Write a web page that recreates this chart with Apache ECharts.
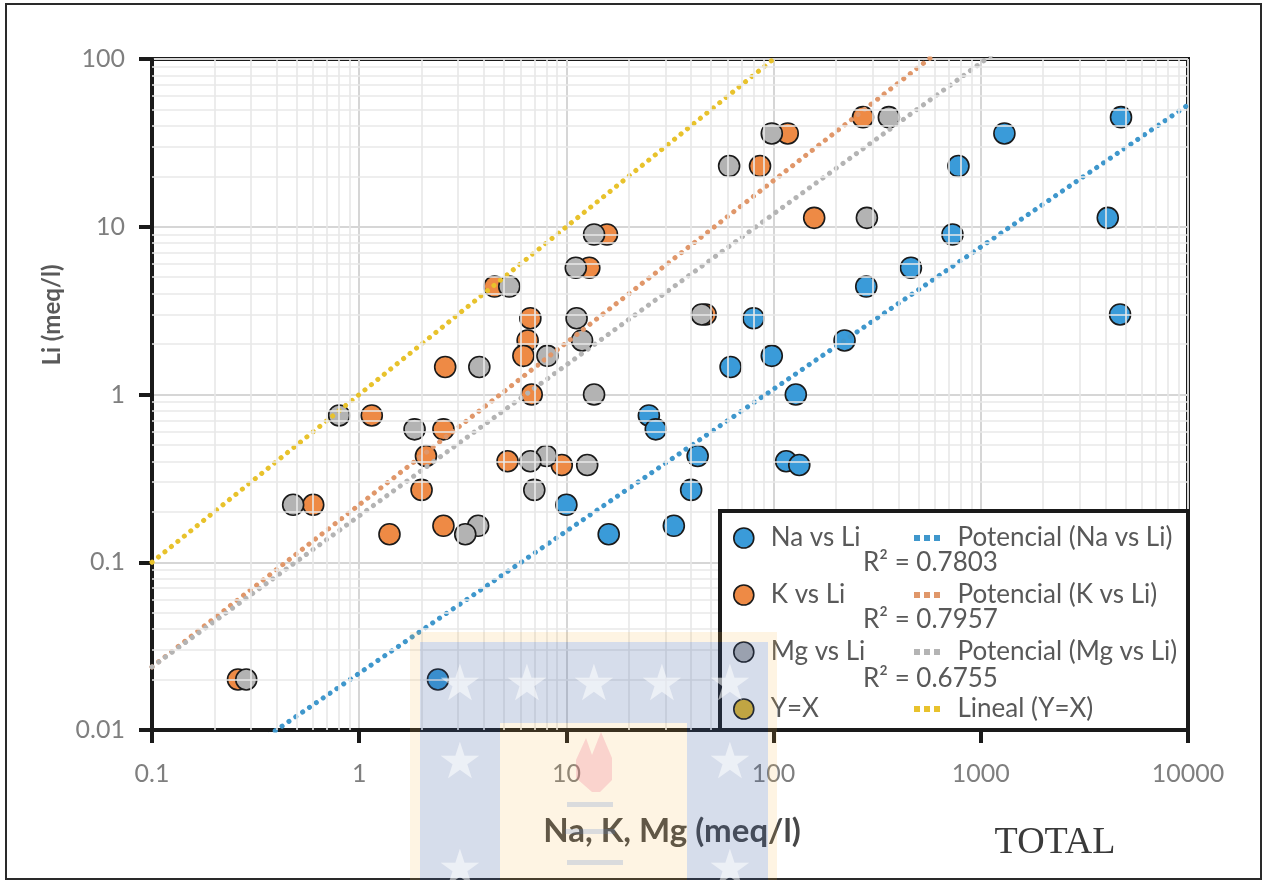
<!DOCTYPE html>
<html>
<head>
<meta charset="utf-8">
<script src="https://cdn.jsdelivr.net/npm/echarts@6/dist/echarts.min.js"></script>
<style>
  html, body { margin: 0; padding: 0; background: #fff; }
  #chart { width: 1264px; height: 880px; }
</style>
</head>
<body>
<div id="chart"></div>
<script>
// Li (meq/l), shared by the three series
const li = [45, 36, 23, 11.3, 9, 5.7, 4.4, 3.0, 2.85, 2.1, 1.7, 1.46, 1.0, 0.75, 0.62, 0.43, 0.4, 0.38, 0.27, 0.22, 0.165, 0.147, 0.02];
// Na, K, Mg (meq/l) for the same samples
const na = [4750, 1300, 780, 4100, 730, 460, 280, 4700, 80, 220, 98, 62, 128, 25, 27, 43, 115, 133, 40, 10, 33, 16, 2.4];
const k = [270, 117, 86, 157, 15.7, 12.9, 4.5, 47, 6.7, 6.5, 6.2, 2.6, 6.8, 1.15, 2.55, 2.1, 5.2, 9.5, 2.0, 0.6, 2.55, 1.4, 0.26];
const mg = [360, 98, 61, 282, 13.6, 11.1, 5.3, 45, 11.2, 11.9, 8.1, 3.8, 13.6, 0.8, 1.85, 8.0, 6.7, 12.6, 7.0, 0.48, 3.75, 3.25, 0.285];

const seriesNames = ['Na vs Li', 'K vs Li', 'Mg vs Li'];
const fitNames = ['Potencial (Na vs Li)', 'Potencial (K vs Li)', 'Potencial (Mg vs Li)'];
// power trend lines y = a * x^b
const fitCoef = [0.0218, 0.22, 0.189];
const fitExp = [0.847, 0.9665, 0.900];
const fitR2 = ['0.7803', '0.7957', '0.6755'];
const yxLine = [0.1, 100];

const xTicks = [0.1, 1, 10, 100, 1000, 10000];
const yTicks = [0.01, 0.1, 1, 10, 100];

const markColors = ['#3a9bd9', '#ee8a45', '#b3b3b3', '#e3b82a'];
const lineColors = ['#3f97cc', '#e0976a', '#b4b4b4', '#e8c22c'];
const textColor = '#595959';
const font = 'Lato';

const chart = echarts.init(document.getElementById('chart'));

// minor grid lines at 2..9 of each decade
const minorLines = [];
for (let d = -1; d < 4; d++) {
    for (let m = 2; m <= 9; m++) minorLines.push({ xAxis: m * Math.pow(10, d) });
}
for (let d = -2; d < 2; d++) {
    for (let m = 2; m <= 9; m++) minorLines.push({ yAxis: m * Math.pow(10, d) });
}

const pointSets = [na, k, mg];
const series = [];

series.push({
    name: 'grid',
    type: 'line',
    data: [],
    z: 1,
    silent: true,
    markLine: {
        silent: true,
        symbol: 'none',
        label: { show: false },
        lineStyle: { color: '#e8e8e8', width: 1.6, type: 'solid' },
        data: minorLines
    }
});

pointSets.forEach((xs, i) => {
    series.push({
        name: seriesNames[i],
        type: 'scatter',
        z: 3,
        symbol: 'circle',
        symbolSize: 21,
        itemStyle: { color: markColors[i], borderColor: '#1a1a1a', borderWidth: 1.6, opacity: 1 },
        data: xs.map((x, j) => [x, li[j]])
    });
});

series.push({
    name: 'Y=X',
    type: 'scatter',
    z: 3,
    symbol: 'circle',
    symbolSize: 0,
    itemStyle: { color: markColors[3], borderColor: '#1a1a1a', borderWidth: 1.6, opacity: 1 },
    data: yxLine.map(v => [v, v])
});

const dots = (c) => ({ color: c, width: 5, type: [0.1, 8.2], cap: 'round' });

fitNames.forEach((name, i) => {
    const a = fitCoef[i], b = fitExp[i];
    series.push({
        name: name,
        type: 'line',
        z: 4,
        symbol: 'none',
        showSymbol: false,
        clip: true,
        lineStyle: dots(lineColors[i]),
        itemStyle: { color: lineColors[i] },
        data: [xTicks[0], xTicks[xTicks.length - 1]].map(x => [x, a * Math.pow(x, b)])
    });
});

series.push({
    name: 'Lineal (Y=X)',
    type: 'line',
    z: 4,
    symbol: 'none',
    showSymbol: false,
    clip: true,
    lineStyle: dots(lineColors[3]),
    itemStyle: { color: lineColors[3] },
    data: yxLine.map(v => [v, v])
});

const axisCommon = {
    type: 'log',
    logBase: 10,
    axisLine: { show: true, onZero: false, lineStyle: { color: '#1a1a1a', width: 4 } },
    axisTick: { show: true, inside: false, length: 13, lineStyle: { color: '#1a1a1a', width: 4 } },
    splitLine: { show: true, lineStyle: { color: '#d6d6d6', width: 2 } },
    minorTick: { show: false },
    minorSplitLine: { show: false }
};

const legendText = { color: textColor, fontFamily: font, fontSize: 26, lineHeight: 26 };
const dotIcon = 'path://M0,0h6v6h-6z M10,0h6v6h-6z M20,0h6v6h-6z';

const blueTint = 'rgba(60,95,160,0.21)';
const creamTint = 'rgba(250,180,70,0.15)';
const wmRects = [
    [410, 632, 367, 10, creamTint], [410, 642, 10, 238, creamTint], [768, 642, 9, 238, creamTint],
    [500, 723, 187, 157, creamTint],
    [420, 642, 348, 81, blueTint], [420, 723, 80, 157, blueTint], [687, 723, 81, 157, blueTint],
    [567, 802, 46, 5, 'rgba(90,130,200,0.22)'], [565, 829, 50, 5, 'rgba(90,130,200,0.22)'], [567, 860, 56, 5, 'rgba(90,130,200,0.22)']
];
const watermark = wmRects.map(r => ({
    type: 'rect', z: 40, silent: true,
    shape: { x: r[0], y: r[1], width: r[2], height: r[3] },
    style: { fill: r[4] }
})).concat([{
    type: 'polygon', z: 40, silent: true,
    shape: { points: [[592, 792], [576, 778], [576, 760], [586, 738], [592, 755], [601, 732], [612, 758], [612, 780], [600, 792]] },
    style: { fill: 'rgba(240,110,140,0.25)' }
}]).concat(
    [[460, 687], [527, 687], [594, 687], [662, 687], [730, 687], [460, 765], [730, 765], [460, 872], [730, 872]].map(p => ({
        type: 'text', z: 41, silent: true,
        x: p[0], y: p[1],
        style: { text: '★', fill: 'rgba(255,255,255,0.55)', font: '50px "DejaVu Sans"', align: 'center', verticalAlign: 'middle' }
    }))
);

const option = {
    animation: false,
    backgroundColor: '#fff',
    grid: {
        left: 152, right: 76, top: 59, bottom: 150,
        show: true, borderColor: '#1a1a1a', borderWidth: 4, backgroundColor: 'transparent'
    },
    xAxis: Object.assign({}, axisCommon, {
        min: xTicks[0], max: xTicks[xTicks.length - 1],
        axisLabel: { color: '#7f7f7f', fontFamily: font, fontSize: 25, margin: 31,
            formatter: v => String(+v.toPrecision(6)) }
    }),
    yAxis: Object.assign({}, axisCommon, {
        min: yTicks[0], max: yTicks[yTicks.length - 1],
        axisLabel: { color: '#7f7f7f', fontFamily: font, fontSize: 25, margin: 27,
            formatter: v => String(+v.toPrecision(6)) }
    }),
    legend: [
        {
            z: 20,
            orient: 'vertical',
            left: 728, top: 520,
            itemWidth: 20, itemHeight: 20, itemGap: 31,
            icon: 'circle',
            textStyle: Object.assign({ padding: [0, 0, 0, 12] }, legendText),
            selectedMode: false,
            data: seriesNames.concat(['Y=X']).map((n, i) => ({
                name: n,
                itemStyle: { color: markColors[i], borderColor: '#1a1a1a', borderWidth: 1.6, opacity: 1 }
            }))
        },
        {
            z: 20,
            orient: 'vertical',
            left: 909, top: 520,
            itemWidth: 27, itemHeight: 6, itemGap: 31,
            textStyle: Object.assign({ padding: [0, 0, 0, 12] }, legendText),
            selectedMode: false,
            data: fitNames.concat(['Lineal (Y=X)']).map(n => ({ name: n, icon: dotIcon }))
        }
    ],
    graphic: [
        { type: 'rect', z: 0, silent: true, shape: { x: 6, y: 4, width: 1255, height: 875 }, style: { fill: 'none', stroke: '#2a2a2a', lineWidth: 2 } },
        { type: 'rect', z: 10, silent: true, shape: { x: 720, y: 511, width: 468, height: 219 }, style: { fill: '#fff', stroke: '#1a1a1a', lineWidth: 4 } }
    ].concat(fitR2.map((r, i) => ({
        type: 'text', z: 20, silent: true,
        x: 863, y: [563, 620, 679][i],
        style: { text: 'R² = ' + r, fill: textColor, font: '26px ' + font, verticalAlign: 'middle' }
    }))).concat([
        { type: 'text', z: 20, silent: true, x: 52, y: 315, rotation: Math.PI / 2,
          style: { text: 'Li (meq/l)', fill: textColor, font: 'bold 24px ' + font, align: 'center', verticalAlign: 'middle' } },
        { type: 'text', z: 20, silent: true, x: 672, y: 831,
          style: { text: 'Na, K, Mg (meq/l)', fill: '#474747', font: 'bold 33px ' + font, align: 'center', verticalAlign: 'middle' } },
        { type: 'text', z: 20, silent: true, x: 1055, y: 843,
          style: { text: 'TOTAL', fill: '#3a3a3a', font: '38px "Liberation Serif"', align: 'center', verticalAlign: 'middle' } }
    ]).concat(watermark),
    series: series
};

chart.setOption(option);
</script>
</body>
</html>
